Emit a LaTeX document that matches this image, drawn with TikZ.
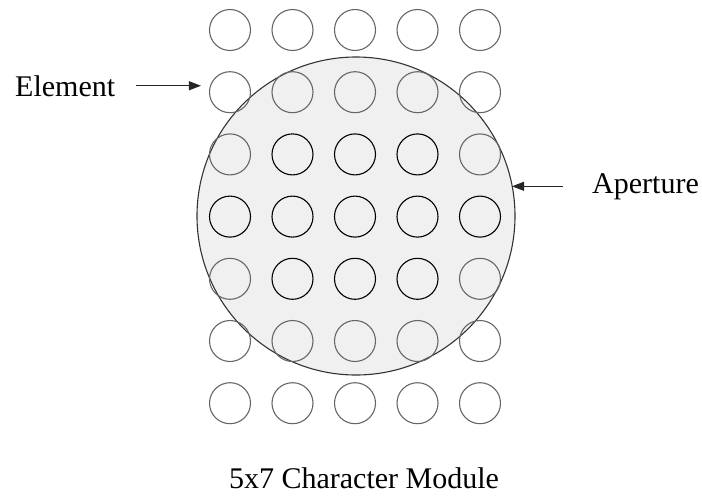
\documentclass[tikz,border=0pt]{standalone}
\usepackage{fontspec}
\setmainfont{Liberation Serif}
\usetikzlibrary{positioning,arrows.meta}

\begin{document}
\begin{tikzpicture}[x=1pt,y=-1pt,
	elem/.style={circle, draw=gray!80!black, line width=1.1pt, minimum size=41pt, inner sep=0pt},
	lit/.style={elem, draw=black},
	lbl/.style={font=\fontsize{30}{36}\selectfont, inner sep=0pt},
	ptr/.style={-{Triangle[length=12pt,width=9pt]}, line width=1.1pt, draw=gray!30!black, fill=gray!30!black}]
	\useasboundingbox (0,0) rectangle (702,496);

	\node[circle, draw=gray!40!black, fill=gray!12, line width=1.1pt, minimum size=318pt] (aperture) at (356,216) {};

	\foreach \r in {1,...,7}
		\foreach \c in {1,...,5} {
			\pgfmathsetmacro\inside{(\r==4) || (\r>2 && \r<6 && \c>1 && \c<5)}
			\ifdim\inside pt>0.5pt \def\sty{lit}\else\def\sty{elem}\fi
			\node[\sty] (e\r\c) at ({230+62.5*(\c-1)}, {30+62.2*(\r-1)}) {};
		}

	\node[lbl, anchor=base west] (element) at (15,96) {Element};
	\node[lbl, anchor=base west] (aperlabel) at (592,193) {Aperture};
	\node[lbl, anchor=base] (caption) at (364,488) {5x7 Character Module};

	\draw[ptr] ([xshift=21pt]element.east) -- ([xshift=-8pt]element.east -| e21.west);
	\draw[ptr] ([xshift=-29pt]aperlabel.west) -- (aperlabel.west -| aperture.12);
\end{tikzpicture}
\end{document}
